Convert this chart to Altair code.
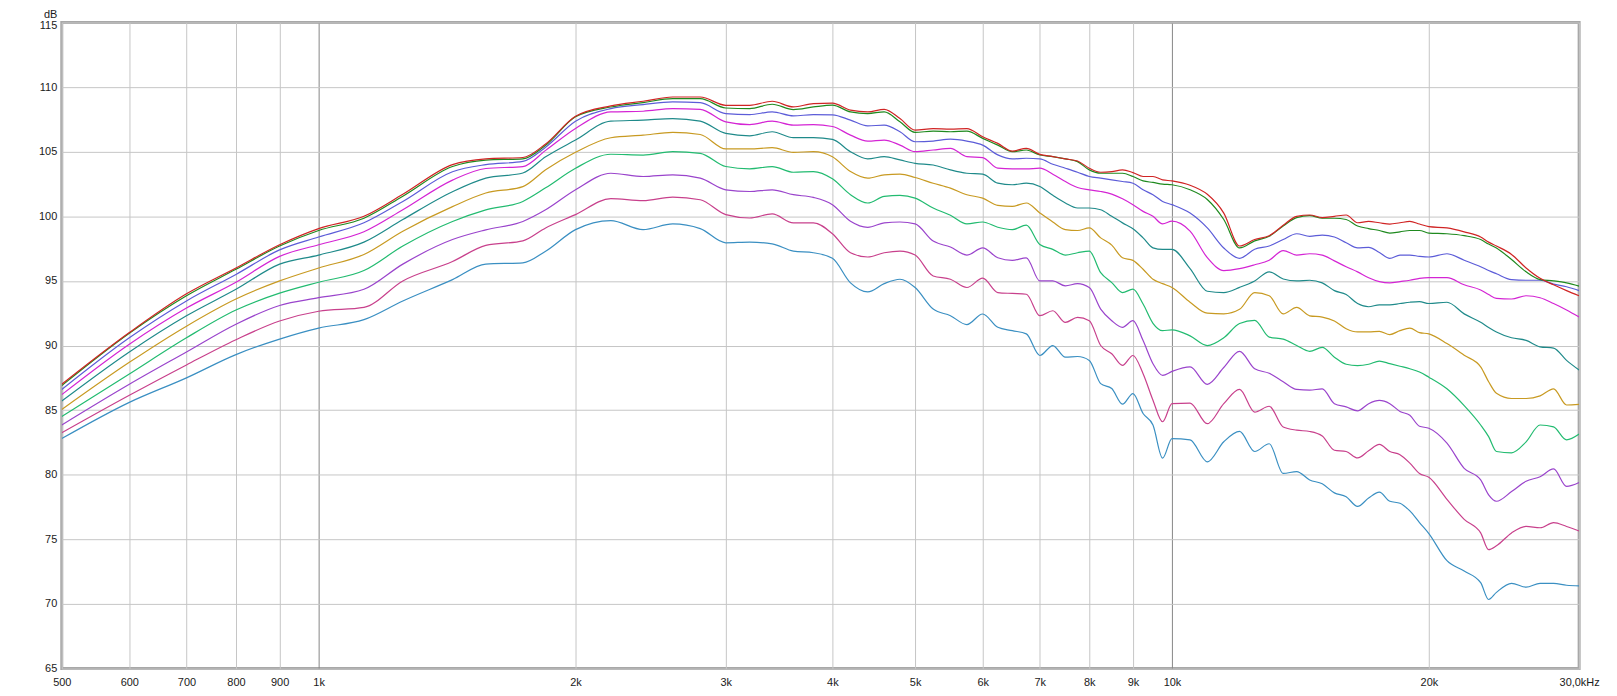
import altair as alt
import pandas as pd

# Frequencies (Hz) shared by all curves
FREQ = [500, 600, 700, 800, 900, 1000, 1130, 1255, 1435, 1570, 1735, 1845,
        2000, 2200, 2400, 2600, 2800, 3000, 3200, 3400, 3600, 3800, 4000,
        4200, 4400, 4600, 4800, 5000, 5250, 5500, 5750, 6000, 6250, 6500, 6750,
        7000, 7250, 7500, 7750, 8000, 8250, 8500, 8750, 9000, 9250, 9500, 9750, 10000,
        10500, 11000, 11500, 12000, 12500, 13000, 13500, 14000, 14500, 15000,
        15500, 16000, 16500, 17000, 17500, 18000, 18500, 19000, 19500, 20000,
        21000, 22000, 23000, 23500, 24000, 25000, 26000, 27000, 28000, 29000, 30000]

RED = [87.0, 91.0, 94.0, 96.0, 97.8, 99.05, 100.0, 101.7, 104.0, 104.45, 104.55, 105.6,
       107.74, 108.54, 108.9, 109.23, 109.23, 108.59, 108.59, 108.9, 108.46, 108.72, 108.75,
       108.21, 108.08, 108.28, 107.56, 106.67, 106.79, 106.74, 106.79, 106.15, 105.64, 105.05, 105.26,
       104.79, 104.62, 104.44, 104.28, 103.72, 103.41, 103.46, 103.59, 103.38, 103.08, 103.08, 102.82, 102.74,
       102.4, 101.7, 100.25, 97.7, 98.2, 98.5, 99.3, 100.0, 100.1, 99.9,
       100.0, 100.1, 99.5, 99.6, 99.5, 99.4, 99.5, 99.6, 99.4, 99.2,
       99.1, 98.8, 98.4, 98.0, 97.7, 97.05, 96.0, 95.2, 94.7, 94.25, 93.85]
GREEN = [86.9, 90.95, 93.85, 95.9, 97.7, 98.9, 99.85, 101.55, 103.85, 104.35, 104.45, 105.5,
         107.7, 108.46, 108.8, 109.1, 109.1, 108.38, 108.33, 108.67, 108.26, 108.46, 108.6,
         108.08, 107.95, 108.08, 107.31, 106.49, 106.59, 106.54, 106.59, 106.03, 105.51, 105.0, 105.13,
         104.74, 104.62, 104.44, 104.23, 103.59, 103.33, 103.33, 103.33, 103.08, 102.74, 102.62, 102.49, 102.44,
         102.05, 101.3, 99.75, 97.55, 98.1, 98.45, 99.25, 99.9, 100.05, 99.85,
         99.85, 99.75, 99.25, 99.05, 98.9, 98.7, 98.8, 98.9, 98.9, 98.7,
         98.65, 98.5, 98.2, 97.85, 97.55, 96.65, 95.7, 95.1, 95.0, 94.85, 94.6]
BLUE = [86.6, 90.6, 93.45, 95.5, 97.4, 98.4, 99.5, 101.15, 103.45, 104.0, 104.25, 105.35,
        107.36, 108.33, 108.64, 108.85, 108.79, 107.95, 107.87, 108.08, 107.77, 107.87, 107.85,
        107.44, 107.0, 107.05, 106.54, 105.77, 105.82, 105.97, 105.82, 105.51, 104.75, 104.44, 104.49,
        104.44, 104.03, 103.72, 103.41, 103.08, 102.95, 102.82, 102.69, 102.56, 102.05, 101.67, 101.15, 100.9,
        100.25, 99.1, 97.55, 96.75, 97.45, 97.7, 98.2, 98.65, 98.45, 98.55,
        98.4, 97.95, 97.55, 97.6, 97.2, 96.75, 97.0, 97.0, 96.9, 96.85,
        97.1, 96.6, 96.1, 95.8, 95.55, 95.1, 95.05, 95.05, 94.75, 94.55, 94.25]
MAGENTA = [86.2, 90.1, 92.9, 94.9, 96.9, 97.8, 98.8, 100.5, 102.8, 103.7, 103.85, 105.1,
           106.8, 108.08, 108.13, 108.33, 108.28, 107.31, 107.1, 107.36, 107.05, 107.1, 106.95,
           106.28, 105.82, 105.9, 105.51, 105.0, 105.13, 105.26, 104.62, 104.54, 103.72, 103.67, 103.67,
           103.72, 103.26, 102.69, 102.23, 102.05, 101.92, 101.72, 101.36, 100.9, 100.38, 100.0, 99.41, 99.62,
           98.85, 96.8, 95.8, 95.95, 96.25, 96.6, 97.35, 97.0, 97.1, 97.0,
           96.55, 96.1, 95.7, 95.25, 94.95, 94.85, 94.95, 95.05, 95.2, 95.25,
           95.25, 94.7, 94.3, 93.95, 93.65, 93.6, 93.85, 93.7, 93.25, 92.75, 92.2]
TEAL = [85.7, 89.5, 92.3, 94.35, 96.3, 97.0, 98.0, 99.75, 101.9, 102.95, 103.35, 104.6,
        105.9, 107.36, 107.44, 107.56, 107.36, 106.41, 106.23, 106.54, 106.08, 106.08, 105.95,
        105.0, 104.44, 104.62, 104.36, 104.1, 103.97, 103.59, 103.33, 103.26, 102.56, 102.44, 102.56,
        102.31, 101.62, 101.03, 100.64, 100.64, 100.51, 100.0, 99.49, 99.03, 98.33, 97.56, 97.44, 97.44,
        95.95, 94.2, 94.1, 94.5, 95.0, 95.7, 95.15, 95.0, 95.05, 94.85,
        94.25, 93.95, 93.25, 93.0, 93.15, 93.15, 93.25, 93.35, 93.4, 93.25,
        93.35, 92.45, 91.8, 91.4, 91.05, 90.6, 90.4, 89.9, 89.8, 88.85, 88.1]
GOLD = [85.05, 88.7, 91.5, 93.6, 95.0, 96.0, 97.05, 98.85, 100.75, 101.8, 102.3, 103.6,
        104.95, 106.08, 106.28, 106.49, 106.33, 105.21, 105.21, 105.31, 104.95, 105.0, 104.6,
        103.46, 102.95, 103.21, 103.26, 103.0, 102.56, 102.18, 101.67, 101.41, 100.85, 100.77, 101.03,
        100.26, 99.56, 98.97, 98.9, 99.1, 98.33, 97.77, 96.79, 96.59, 95.9, 95.13, 94.79, 94.49,
        93.35, 92.5, 92.45, 92.8, 94.1, 93.85, 92.45, 92.95, 92.3, 92.2,
        91.9, 91.3, 91.05, 91.05, 91.1, 90.85, 91.15, 91.35, 91.0, 90.9,
        90.15, 89.25, 88.35, 87.2, 86.3, 85.9, 85.9, 86.1, 86.65, 85.4, 85.45]
EMERALD = [84.5, 87.8, 90.6, 92.75, 94.05, 94.9, 95.8, 97.7, 99.6, 100.5, 101.15, 102.2,
           103.72, 104.8, 104.74, 105.0, 104.87, 103.85, 103.67, 103.85, 103.41, 103.46, 102.9,
           101.67, 101.03, 101.54, 101.62, 101.41, 100.64, 100.08, 99.41, 99.56, 99.15, 98.97, 99.31,
           97.82, 97.44, 97.0, 97.18, 97.31, 95.64, 94.87, 94.1, 94.36, 93.21, 91.72, 91.15, 91.21,
           90.75, 90.0, 90.6, 91.7, 91.95, 90.65, 90.5, 90.0, 89.55, 89.85,
           89.1, 88.55, 88.45, 88.55, 88.8, 88.6, 88.4, 88.2, 87.95, 87.55,
           86.65, 85.35, 83.85, 82.95, 81.8, 81.7, 82.55, 83.85, 83.7, 82.7, 83.15]
PURPLE = [83.85, 87.0, 89.5, 91.65, 93.1, 93.7, 94.35, 96.3, 98.2, 98.95, 99.6, 100.5,
          102.05, 103.33, 103.08, 103.21, 102.95, 102.05, 101.92, 102.05, 101.67, 101.46, 100.9,
          99.62, 99.15, 99.49, 99.56, 99.41, 98.08, 97.62, 97.0, 97.56, 96.79, 96.59, 96.79,
          95.0, 95.0, 94.62, 94.79, 94.49, 92.82, 91.92, 91.41, 91.92, 90.38, 88.59, 87.69, 88.0,
          88.35, 87.0, 88.3, 89.55, 88.2, 87.85, 87.2, 86.6, 86.55, 86.65,
          85.5, 85.25, 84.95, 85.5, 85.75, 85.5, 84.9, 84.6, 83.75, 83.6,
          82.45, 80.5, 79.6, 78.45, 77.95, 78.7, 79.5, 79.85, 80.45, 79.1, 79.4]
CRIMSON = [83.25, 86.15, 88.5, 90.45, 91.9, 92.65, 92.95, 95.0, 96.5, 97.75, 98.1, 99.1,
           100.13, 101.36, 101.21, 101.49, 101.28, 100.13, 99.87, 100.18, 99.49, 99.49, 98.65,
           97.18, 96.85, 97.18, 97.31, 97.0, 95.38, 95.13, 94.49, 95.21, 94.1, 94.03, 93.97,
           92.31, 92.69, 91.79, 92.18, 91.92, 90.0, 89.36, 88.46, 89.23, 87.82, 85.77, 84.1, 85.5,
           85.55, 83.95, 85.5, 86.6, 84.85, 85.3, 83.7, 83.45, 83.35, 83.0,
           81.9, 81.8, 81.3, 81.85, 82.35, 81.8, 81.55, 80.9, 80.1, 79.8,
           78.1, 76.55, 75.5, 74.2, 74.5, 75.5, 76.0, 75.9, 76.3, 76.0, 75.65]
STEEL = [82.8, 85.6, 87.5, 89.3, 90.5, 91.35, 92.0, 93.45, 95.1, 96.3, 96.4, 97.3,
         98.97, 99.67, 98.97, 99.41, 99.05, 97.95, 98.0, 97.87, 97.31, 97.18, 96.75,
         94.85, 94.15, 94.79, 95.13, 94.49, 92.82, 92.31, 91.62, 92.44, 91.41, 91.15, 90.9,
         89.23, 90.0, 89.1, 89.15, 88.85, 87.05, 86.67, 85.46, 86.28, 84.74, 83.85, 81.28, 82.8,
         82.7, 81.0, 82.55, 83.35, 81.8, 82.4, 80.1, 80.25, 79.6, 79.3,
         78.6, 78.3, 77.55, 78.2, 78.65, 77.95, 77.8, 77.2, 76.3, 75.45,
         73.35, 72.55, 71.65, 70.35, 70.9, 71.6, 71.3, 71.6, 71.6, 71.45, 71.4]

SERIES = ["s10", "s9", "s8", "s7", "s6", "s5", "s4", "s3", "s2", "s1"]
VALUES = [STEEL, CRIMSON, PURPLE, EMERALD, GOLD, TEAL, MAGENTA, BLUE, GREEN, RED]
COLORS = ["#3a8fc2", "#c8408c", "#9a44cc", "#22bb70", "#c89a22",
          "#1f8a8a", "#d424d4", "#5c5cd8", "#1f8a1f", "#d02424"]

X_TICKS = [500, 600, 700, 800, 900, 1000, 2000, 3000, 4000, 5000, 6000, 7000,
           8000, 9000, 10000, 20000, 30000]
X_LABELS = ["500", "600", "700", "800", "900", "1k", "2k", "3k", "4k", "5k", "6k", "7k",
            "8k", "9k", "10k", "20k", "30,0kHz"]
Y_TICKS = [65, 70, 75, 80, 85, 90, 95, 100, 105, 110, 115]

rows = []
for name, vals in zip(SERIES, VALUES):
    for i, (f, v) in enumerate(zip(FREQ, vals)):
        rows.append({"series": name, "freq": f, "db": v, "order": i})
df = pd.DataFrame(rows)

label_expr = "''"
for v, lab in reversed(list(zip(X_TICKS, X_LABELS))):
    label_expr = f"datum.value == {v} ? '{lab}' : ({label_expr})"

FONT = "Liberation Sans"

chart = alt.Chart(df).mark_line(strokeWidth=1.2, interpolate="monotone", clip=True).encode(
    x=alt.X("freq:Q",
            scale=alt.Scale(type="log", domain=[500, 30000], nice=False),
            axis=alt.Axis(values=X_TICKS, labelExpr=label_expr, title=None,
                          grid=True, gridWidth=1,
                          gridColor={"condition": {"test": "datum.value == 1000 || datum.value == 10000",
                                                   "value": "#858585"},
                                     "value": "#c6c6c6"},
                          ticks=False, domain=False, labelFlush=False, labelOverlap=False,
                          labelFont=FONT, labelFontSize=11, labelColor="#1a1a1a",
                          labelPadding=8)),
    y=alt.Y("db:Q",
            scale=alt.Scale(domain=[65, 115], nice=False, zero=False),
            axis=alt.Axis(values=Y_TICKS, title="dB", titleAngle=0, titleX=-5, titleY=-5,
                          titleAlign="right", titleBaseline="alphabetic", titleFontWeight="normal",
                          titleFont=FONT, titleFontSize=11, titleColor="#1a1a1a",
                          grid=True, gridColor="#c6c6c6", gridWidth=1,
                          ticks=False, domain=False, labelOverlap=False,
                          labelOffset={"condition": {"test": "datum.value == 115", "value": 3},
                                       "value": 0},
                          labelFont=FONT, labelFontSize=11, labelColor="#1a1a1a",
                          labelPadding=5)),
    color=alt.Color("series:N", scale=alt.Scale(domain=SERIES, range=COLORS), legend=None),
    order=alt.Order("order:Q"),
).properties(
    width=1524, height=649,
    autosize=alt.AutoSizeParams(type="none"),
    padding={"left": 54, "top": 13, "right": 30, "bottom": 26},
    background="white",
).configure_view(
    stroke="#a8a8a8", strokeWidth=3
)

chart.save("out.html", embed_options={"renderer": "svg", "actions": False})
